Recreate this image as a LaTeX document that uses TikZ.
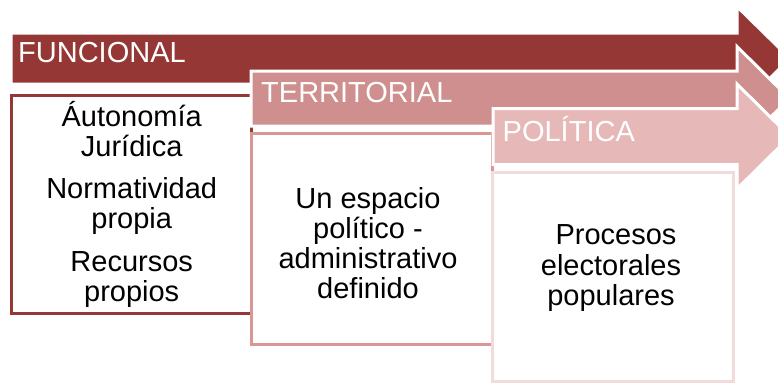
\documentclass[tikz,border=0pt]{standalone}
\usepackage{fontspec}
\setmainfont{Liberation Sans}
\definecolor{cA}{HTML}{953735}
\definecolor{cB}{HTML}{CE8F8E}
\definecolor{cBline}{HTML}{D99694}
\definecolor{cC}{HTML}{E6B9B8}
\definecolor{cCline}{HTML}{F2DCDB}
\tikzset{
  arrowshape/.style={draw=white, line width=3pt, line join=miter},
  boxshape/.style={fill=white, line width=3pt},
  titletext/.style={anchor=base west, inner sep=0pt, text=white, font=\fontsize{29}{30}\selectfont},
  bodytext/.style={anchor=base, inner sep=0pt, text=black, font=\fontsize{29}{30}\selectfont}
}
\begin{document}
\begin{tikzpicture}[x=1pt,y=-1pt]
\useasboundingbox (0,0) rectangle (778,383);
\clip (0,0) rectangle (778,383);
% arrow 1
\fill[cA, arrowshape] (11,33) -- (737,33) -- (737,6.5) -- (790,58.5) -- (737,110.5) -- (737,84) -- (11,84) -- cycle;
\node[titletext] (t1) at (18,62.7) {FUNCIONAL};
% box 1
\draw[boxshape, draw=cA] (11.5,95) rectangle (251,313.5);
\node[bodytext] (b1a) at (131.7,126.7) {Áutonomía};
\node[bodytext] (b1b) at (131.7,156.7) {Jurídica};
\node[bodytext] (b1c) at (131.7,198.3) {Normatividad};
\node[bodytext] (b1d) at (131.7,228.3) {propia};
\node[bodytext] (b1e) at (131.7,271.7) {Recursos};
\node[bodytext] (b1f) at (131.7,301.7) {propios};
% arrow 2
\fill[cB, arrowshape] (251,71) -- (737,71) -- (737,46.5) -- (789.5,98.5) -- (737,150.5) -- (737,126) -- (251,126) -- cycle;
\node[titletext] (t2) at (261,102.7) {TERRITORIAL};
% box 2
\draw[boxshape, draw=cBline] (251,133) rectangle (492,344.5);
\node[bodytext] (b2a) at (368,208.3) {Un espacio};
\node[bodytext] (b2b) at (368,238.3) {político -};
\node[bodytext] (b2c) at (368,268.3) {administrativo};
\node[bodytext] (b2d) at (368,298.3) {definido};
% arrow 3
\fill[cC, arrowshape] (493,108.5) -- (737,108.5) -- (737,84) -- (790,136.5) -- (737,189) -- (737,164.5) -- (493,164.5) -- cycle;
\node[titletext] (t3) at (502.5,141.7) {POLÍTICA};
% box 3
\draw[boxshape, draw=cCline] (492.5,172) rectangle (733.5,381.5);
\node[bodytext] (b3a) at (616,244.3) {Procesos};
\node[bodytext] (b3b) at (611,275) {electorales};
\node[bodytext] (b3c) at (611,305) {populares};
\end{tikzpicture}
\end{document}
